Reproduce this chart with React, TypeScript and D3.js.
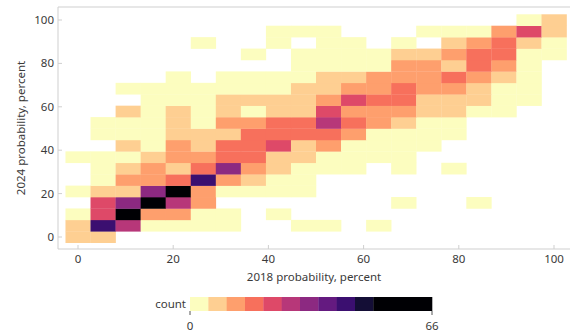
import * as d3 from 'd3';

// bin centres (percent) used for both years
const probBins = [0, 5.26, 10.53, 15.79, 21.05, 26.32, 31.58, 36.84, 42.11, 47.37, 52.63, 57.89, 63.16, 68.42, 73.68, 78.95, 84.21, 89.47, 94.74, 100];
const binWidth = 5.26;

// counts[j][i] -> j: 2024 bin (bottom to top), i: 2018 bin (left to right)
const counts = [
  [8, 7, 0, 0, 0, 0, 0, 0, 0, 0, 0, 0, 0, 0, 0, 0, 0, 0, 0, 0],
  [9, 42, 28, 3, 2, 3, 2, 0, 0, 2, 1, 0, 1, 0, 0, 0, 0, 0, 0, 0],
  [3, 23, 58, 13, 12, 4, 3, 0, 2, 0, 0, 0, 0, 0, 0, 0, 0, 0, 0, 0],
  [0, 22, 33, 66, 27, 12, 0, 0, 0, 0, 0, 0, 0, 1, 0, 0, 1, 0, 0, 0],
  [2, 8, 9, 32, 54, 13, 4, 3, 3, 2, 0, 0, 0, 0, 0, 0, 0, 0, 0, 0],
  [0, 3, 12, 14, 18, 41, 13, 7, 4, 3, 0, 0, 0, 0, 0, 0, 0, 0, 0, 0],
  [0, 4, 8, 12, 9, 17, 33, 12, 7, 4, 3, 2, 0, 1, 0, 1, 0, 0, 0, 0],
  [2, 3, 4, 9, 13, 12, 17, 18, 8, 7, 4, 3, 2, 2, 0, 0, 0, 0, 0, 0],
  [0, 0, 7, 4, 12, 9, 18, 17, 22, 8, 13, 4, 3, 2, 2, 0, 0, 0, 0, 0],
  [0, 3, 4, 3, 8, 7, 9, 17, 16, 18, 19, 13, 4, 3, 2, 1, 0, 0, 0, 0],
  [0, 2, 3, 4, 7, 4, 12, 13, 17, 18, 29, 17, 12, 8, 3, 2, 0, 0, 0, 0],
  [0, 0, 8, 3, 7, 4, 9, 3, 8, 8, 24, 12, 13, 12, 8, 7, 3, 2, 0, 0],
  [0, 0, 0, 3, 4, 3, 8, 7, 9, 8, 13, 23, 18, 17, 9, 8, 7, 3, 2, 0],
  [0, 0, 2, 3, 2, 4, 3, 4, 3, 8, 9, 12, 13, 17, 12, 13, 8, 4, 3, 0],
  [0, 0, 0, 0, 2, 0, 3, 2, 4, 3, 7, 8, 12, 13, 12, 18, 13, 8, 3, 0],
  [0, 0, 0, 0, 0, 0, 0, 0, 0, 3, 2, 4, 3, 12, 13, 9, 17, 12, 3, 0],
  [0, 0, 0, 0, 0, 0, 0, 2, 0, 3, 3, 2, 4, 8, 9, 13, 18, 17, 4, 3],
  [0, 0, 0, 0, 0, 1, 0, 0, 2, 0, 3, 2, 0, 3, 0, 8, 12, 18, 8, 3],
  [0, 0, 0, 0, 0, 0, 0, 0, 2, 3, 2, 0, 0, 0, 2, 3, 3, 13, 24, 8],
  [0, 0, 0, 0, 0, 0, 0, 0, 0, 0, 0, 0, 0, 0, 0, 0, 0, 0, 3, 9],
];

const axisTicks = [0, 20, 40, 60, 80, 100];
const countSteps = [5, 10, 15, 20, 25, 30, 35, 40, 45, 50];
const countMax = 66;

const font = '"Noto Sans", sans-serif';
const textColor = '#3a3a3a';
const axisColor = '#cfcfcf';

export default function App() {
  const frame = { left: 58, right: 572, top: 7, bottom: 249 };
  const x = d3.scaleLinear().domain([0, 100]).range([78, 554]);
  const y = d3.scaleLinear().domain([0, 100]).range([237, 20]);
  const palette = d3.range(countSteps.length + 1).map((k) => d3.interpolateMagma(1 - k / countSteps.length));
  const color = d3.scaleThreshold<number, string>().domain(countSteps).range(palette);

  const cells: { i: number; j: number; c: number }[] = [];
  counts.forEach((row, j) => row.forEach((c, i) => { if (c > 0) cells.push({ i, j, c }); }));

  const cw = x(binWidth) - x(0);
  const ch = y(0) - y(binWidth);

  const bar = d3.scaleLinear().domain([0, countMax]).range([190, 432]);
  const barEdges = [0, ...countSteps, countMax];

  return (
    <svg width={570} height={335} style={{ position: 'absolute', left: 0, top: 0, background: '#fff' }} fontFamily={font}>
      {cells.map((d) => (
        <rect
          key={`${d.i}-${d.j}`}
          x={x(probBins[d.i] - binWidth / 2)}
          y={y(probBins[d.j] + binWidth / 2)}
          width={cw + 0.3}
          height={ch + 0.3}
          fill={color(d.c)}
        />
      ))}

      {/* frame */}
      <line x1={frame.left} x2={frame.right} y1={frame.top} y2={frame.top} stroke={axisColor} />
      <line x1={frame.left} x2={frame.left} y1={frame.top} y2={frame.bottom} stroke={axisColor} />
      <line x1={frame.left} x2={frame.right} y1={frame.bottom} y2={frame.bottom} stroke={axisColor} />

      {axisTicks.map((t) => (
        <g key={`x${t}`}>
          <line x1={x(t)} x2={x(t)} y1={frame.bottom} y2={frame.bottom - 4} stroke={axisColor} />
          <text x={x(t)} y={frame.bottom + 14} textAnchor="middle" fontSize={11.5} fill={textColor}>{t}</text>
        </g>
      ))}
      {axisTicks.map((t) => (
        <g key={`y${t}`}>
          <line x1={frame.left} x2={frame.left + 4} y1={y(t)} y2={y(t)} stroke={axisColor} />
          <text x={frame.left - 4} y={y(t)} dy="0.35em" textAnchor="end" fontSize={11.5} fill={textColor}>{t}</text>
        </g>
      ))}

      <text x={(frame.left + 570) / 2} y={281} textAnchor="middle" fontSize={11.5} fill={textColor}>2018 probability, percent</text>
      <text transform={`translate(25,${(frame.top + frame.bottom) / 2}) rotate(-90)`} textAnchor="middle" fontSize={11.5} fill={textColor}>2024 probability, percent</text>

      {/* colour bar */}
      {palette.map((p, k) => (
        <rect key={`cb${k}`} x={bar(barEdges[k])} y={297} width={bar(barEdges[k + 1]) - bar(barEdges[k]) + 0.3} height={14} fill={p} />
      ))}
      <text x={186} y={304} dy="0.35em" textAnchor="end" fontSize={11.5} fill={textColor}>count</text>
      {[0, countMax].map((t) => (
        <g key={`cbt${t}`}>
          <line x1={bar(t)} x2={bar(t)} y1={311} y2={315} stroke="#555" />
          <text x={bar(t)} y={330} textAnchor="middle" fontSize={11.5} fill={textColor}>{t}</text>
        </g>
      ))}
    </svg>
  );
}
